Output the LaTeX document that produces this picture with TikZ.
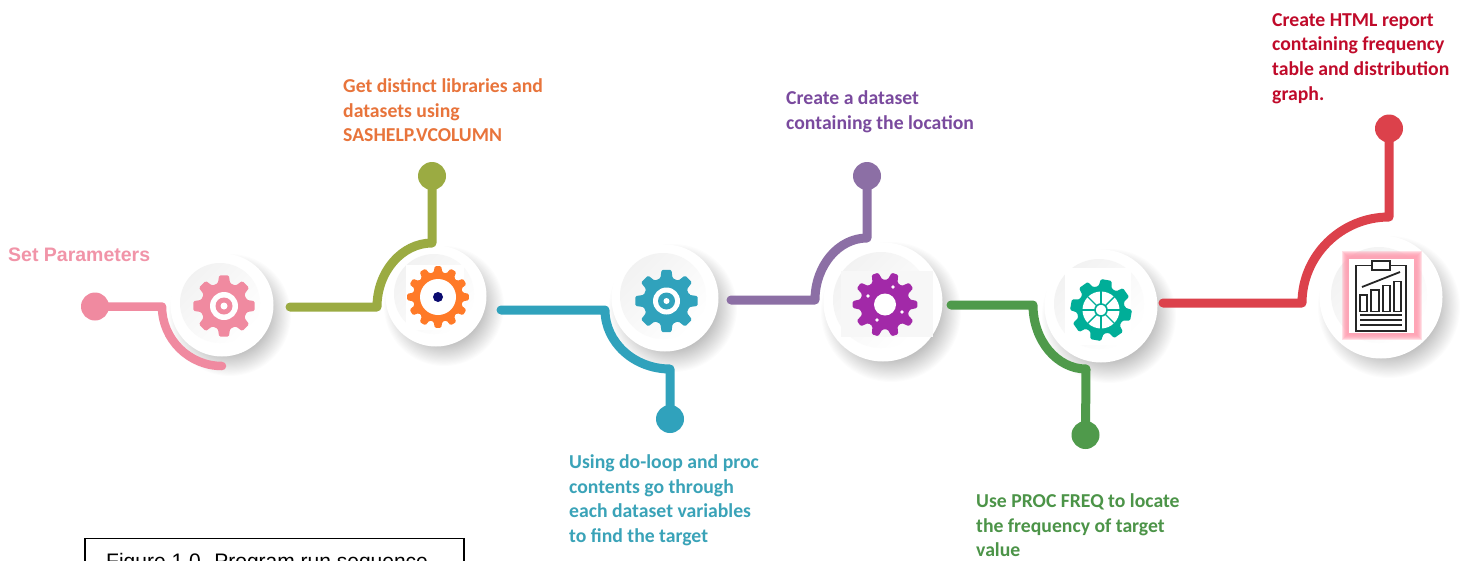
\documentclass[tikz,border=0pt]{standalone}
\usetikzlibrary{calc}
\usepackage{fontspec}
\setmainfont{Carlito}
\newfontfamily\arialfont{Liberation Sans}
\definecolor{cpink}{HTML}{F08AA0}
\definecolor{colive}{HTML}{9BAB42}
\definecolor{cteal}{HTML}{30A2BC}
\definecolor{cpurple}{HTML}{8C6FA5}
\definecolor{cgreen}{HTML}{4F9A4B}
\definecolor{cred}{HTML}{DC414B}
\definecolor{corange}{HTML}{FF7A28}
\definecolor{cmagenta}{HTML}{A229A8}
\definecolor{cjade}{HTML}{00AE98}
\definecolor{cnavy}{HTML}{0B0B70}
\definecolor{tpink}{HTML}{F194A8}
\definecolor{torange}{HTML}{E8743B}
\definecolor{tpurple}{HTML}{7A4A9E}
\definecolor{tred}{HTML}{C00A2A}
\definecolor{tteal}{HTML}{3AA3B8}
\definecolor{tgreen}{HTML}{4C9448}
\definecolor{cglow}{HTML}{FF9DB0}
\tikzset{
  badge/.style={circle,fill=white,inner sep=0pt,minimum size=#1},
  enddot/.style={circle,fill=#1,inner sep=0pt,minimum size=28pt},
  link/.style={line width=9pt,line cap=round,line join=round,draw=#1},
  label/.style={anchor=north west,inner sep=0pt,align=left,text=#1,
     font=\fontsize{19.7}{24.7}\selectfont\bfseries},
}
% soft shadow below-right of a badge
\newcommand{\softshadow}[3]{%
  \foreach \s in {0,...,23}{
    \fill[black,opacity=0.011] (#1+8,#2+10) circle ({#3+11-\s*1.1});
  }}
% quarter curve from #1 to #2, leaving vertically and arriving horizontally
\newcommand{\quarter}[2]{.. controls ($(#1)!0.55!(#1|-#2)$) and ($(#2)!0.55!(#1|-#2)$) .. (#2)}
% gear: centre x, y, teeth, outer radius, root radius, half root angle, half tip angle, offset, colour
\newcommand{\gearfig}[9]{%
  \pgfmathsetmacro\st{360/#3}%
  \pgfmathtruncatemacro\nm{#3-1}%
  \begin{scope}[shift={(#1,#2)}]
  \fill[#9,rounded corners=1.3pt] (#8-#6:#5)
    \foreach \k in {0,...,\nm}{
      -- (#8+\k*\st-#6:#5) -- (#8+\k*\st-#7:#4) -- (#8+\k*\st+#7:#4) -- (#8+\k*\st+#6:#5)
    } -- cycle;
  \end{scope}}
\begin{document}
\begin{tikzpicture}[x=1pt,y=-1pt]
\useasboundingbox (0,0) rectangle (1465,560);
\clip (0,0) rectangle (1465,560);
\fill[white] (0,0) rectangle (1465,560);
% shadows
\softshadow{222}{305}{50}
\softshadow{436}{296}{49}
\softshadow{665}{298}{53}
\softshadow{883}{302}{59}
\softshadow{1101}{306}{56}
\softshadow{1381}{297}{60}
% badges
\node[badge=103pt] (b1) at (222,305) {};
\node[badge=101pt] (b2) at (436,296) {};
\node[badge=107pt] (b3) at (665,298) {};
\node[badge=119pt] (b4) at (883,302) {};
\node[badge=113pt] (b5) at (1101,306) {};
\node[badge=123pt] (b6) at (1381,297) {};
% inner discs
\shade[left color=black!5,right color=white,shading angle=45] (220,303) circle (40);
\shade[left color=black!5,right color=white,shading angle=45] (434,294) circle (40);
\shade[left color=black!5,right color=white,shading angle=45] (663,296) circle (43);
\shade[left color=black!5,right color=white,shading angle=45] (881,300) circle (48);
\shade[left color=black!5,right color=white,shading angle=45] (1099,304) circle (45);
\shade[left color=black!5,right color=white,shading angle=45] (1379,295) circle (48);
% end dots and joints
\node[enddot=cpink] (d1) at (95,306.5) {};
\node[enddot=colive] (d2) at (432,176) {};
\node[enddot=cteal] (d3) at (670,419) {};
\node[enddot=cpurple] (d4) at (867,176) {};
\node[enddot=cgreen] (d5) at (1085.5,435) {};
\node[enddot=cred] (d6) at (1389,128.5) {};
\coordinate (s1) at (162,306.5);  \coordinate (e1) at (222,366);
\coordinate (s2) at (290,307);    \coordinate (k2) at (377,307);  \coordinate (e2) at (432,243);
\coordinate (s3) at (501,310);    \coordinate (k3) at (605,310);  \coordinate (e3) at (670,369);
\coordinate (s4) at (731,300);    \coordinate (k4) at (815,300);  \coordinate (e4) at (867,238);
\coordinate (s5) at (951,305);    \coordinate (k5) at (1033,305); \coordinate (e5) at (1086,369);
\coordinate (s6) at (1163,303);   \coordinate (k6) at (1302,303); \coordinate (e6) at (1389,217);
% connectors
\draw[link=cpink,line width=8.5pt] (d1.center) -- (s1) \quarter{s1}{e1};
\draw[link=colive] (s2) -- (k2) \quarter{k2}{e2} -- (d2.center);
\draw[link=cteal] (s3) -- (k3) \quarter{k3}{e3} -- (d3.center);
\draw[link=cpurple] (s4) -- (k4) \quarter{k4}{e4} -- (d4.center);
\draw[link=cgreen] (s5) -- (k5) \quarter{k5}{e5} -- (d5.center);
\draw[link=cred] (s6) -- (k6) \quarter{k6}{e6} -- (d6.center);
% gear 1
\gearfig{224}{306}{8}{31}{23.5}{15}{9}{0}{cpink}
\fill[white] (224,306) circle (14);
\fill[cpink] (224,306) circle (8.5);
\fill[white] (224,306) circle (3.5);
% gear 2
\fill[white] (406,265) rectangle (464,330);
\gearfig{438}{297}{12}{31}{25}{10}{6}{0}{corange}
\fill[white] (438,297) circle (18);
\fill[cnavy] (438,297) circle (5);
% gear 3
\gearfig{666.5}{301}{8}{31.5}{23.5}{15}{9}{0}{cteal}
\fill[white] (666.5,301) circle (13.5);
\fill[cteal] (666.5,301) circle (8.5);
\fill[white] (666.5,301) circle (3);
% gear 4
\fill[white!97!black] (841,271) rectangle (933,337);
\gearfig{885}{304.5}{10}{32.5}{25}{12}{6}{0}{cmagenta}
\fill[white] (885,304.5) circle (11);
\foreach \a/\b in {893/287,868/296,877/320,902/312}{\fill[white] (\a,\b) circle (1.8);}
% gear 5
\fill[white] (1065,268) rectangle (1131,345);
\gearfig{1101}{310}{8}{31}{24}{16}{10}{10}{cjade}
\fill[white] (1101,310) circle (18.5);
\foreach \a in {0,45,...,315}{\draw[cjade,line width=1.4pt] (1101,310) ++(\a:6) -- ++(\a:13);}
\draw[cjade,line width=1.6pt,fill=white] (1101,310) circle (6);
% report icon
\foreach \g in {0,...,5}{\fill[cglow,opacity=0.32] (1342+\g,251+\g) rectangle (1422-\g,340-\g);}
\fill[white] (1349,259) rectangle (1414,333);
\begin{scope}[draw=black!85,line width=1.8pt]
\draw (1372,265.5) -- (1356,265.5) -- (1356,331) -- (1406,331) -- (1406,265.5) -- (1390,265.5);
\draw (1372,261) rectangle (1390,270);
\draw (1362,287) -- (1400,272);
\draw (1360,295) rectangle (1367,311.5);
\draw (1371,290) rectangle (1379,311.5);
\draw (1383,285.5) rectangle (1390,311.5);
\draw (1394,281.5) rectangle (1401,311.5);
\draw (1360,315) -- (1402,315);
\draw (1360,320) -- (1402,320);
\draw (1360,325) -- (1402,325);
\end{scope}
% labels
\node[anchor=base west,inner sep=0pt,text=tpink,font=\arialfont\fontsize{19.5}{22}\selectfont\bfseries] (t1) at (8,261) {Set Parameters};
\node[label=torange] (t2) at (343,78.5) {Get distinct libraries and\\datasets using\\SASHELP.VCOLUMN};
\node[label=tteal] (t3) at (569,454.5) {Using do-loop and proc\\contents go through\\each dataset variables\\to find the target};
\node[label=tpurple] (t4) at (786,90.5) {Create a dataset\\containing the location};
\node[label=tgreen] (t5) at (976,493.5) {Use PROC FREQ to locate\\the frequency of target\\value};
\node[label=tred] (t6) at (1272,13) {Create HTML report\\containing frequency\\table and distribution\\graph.};
% caption
\draw[black,line width=1.2pt] (85,538.5) rectangle (464,600);
\node[anchor=base west,inner sep=0pt,font=\arialfont\fontsize{21}{24}\selectfont] (cap) at (106,568) {Figure 1.0. Program run sequence};
\end{tikzpicture}
\end{document}
